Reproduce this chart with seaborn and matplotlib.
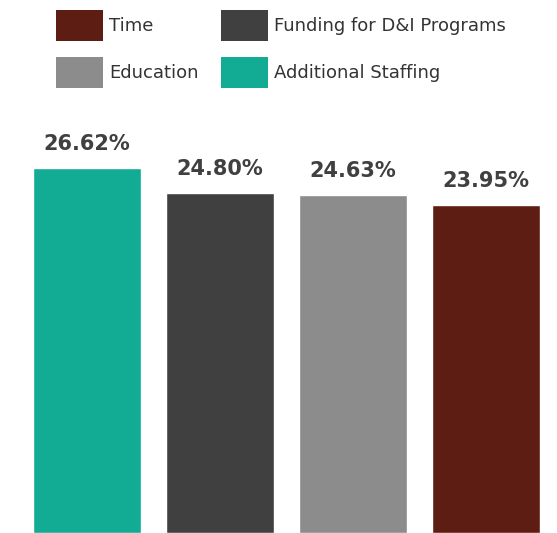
import matplotlib
matplotlib.use("Agg")
import matplotlib.pyplot as plt
from matplotlib.patches import Patch
import seaborn as sns
import pandas as pd

categories = ["Additional Staffing", "Funding for D&I Programs", "Education", "Time"]
values = [26.62, 24.80, 24.63, 23.95]
colors = ["#12AB94", "#404040", "#8C8C8C", "#5E1D12"]
legend_order = ["Time", "Education", "Funding for D&I Programs", "Additional Staffing"]

df = pd.DataFrame({"cat": categories, "val": values})
palette = dict(zip(categories, colors))

sns.set_theme(style="white")
plt.rcParams['font.family'] = ['DejaVu Sans']

fig = plt.figure(figsize=(5.57, 5.33), dpi=100)
ax = fig.add_axes([0, 0, 1, 1])
sns.barplot(data=df, x="cat", y="val", hue="cat", order=categories,
            palette=palette, width=0.81, legend=False, ax=ax, saturation=1)

ax.set_xlim(-0.654, 3.534)
ax.set_ylim(0, 38.88)
ax.axis("off")

for i, v in enumerate(values):
    ax.annotate(f"{v:.2f}%", xy=(i, v), xytext=(0, 10), textcoords="offset points",
                ha="center", va="bottom", fontsize=15, fontweight="bold", color="#404040")

handles = [Patch(facecolor=palette[c], edgecolor="none", label=c) for c in legend_order]
fs = 13
px = fs * 100 / 72
fig.legend(handles=handles, ncol=2, loc="upper left",
           bbox_to_anchor=(56 / 557, 1 - 10 / 533), frameon=False, fontsize=fs,
           handlelength=47 / px, handleheight=2.26, handletextpad=6 / px,
           labelspacing=16.2 / px, columnspacing=22 / px, borderpad=0,
           borderaxespad=0, labelcolor="#333333")

fig.savefig("out.png", dpi=100)
